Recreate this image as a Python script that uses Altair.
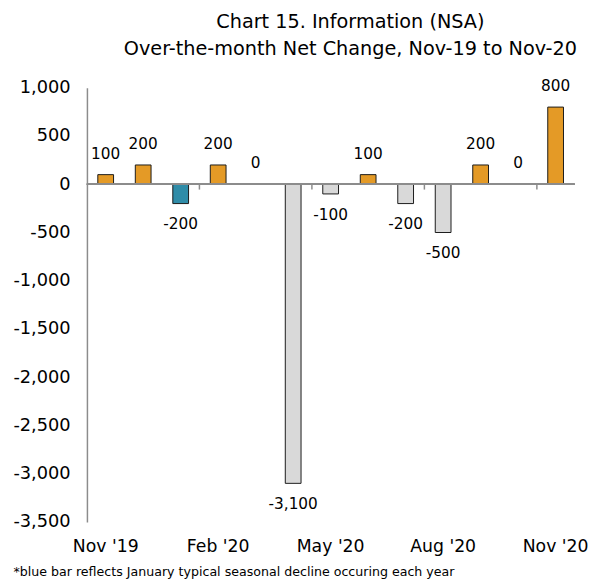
import altair as alt
import pandas as pd

months = ["Nov '19", "Dec '19", "Jan '20", "Feb '20", "Mar '20", "Apr '20", "May '20",
          "Jun '20", "Jul '20", "Aug '20", "Sep '20", "Oct '20", "Nov '20"]
values = [100, 200, -200, 200, 0, -3100, -100, 100, -200, -500, 200, 0, 800]
groups = ["up", "up", "seasonal", "up", "none", "down", "down", "up", "down", "down", "up", "none", "up"]
shown_labels = ["Nov '19", "Feb '20", "May '20", "Aug '20", "Nov '20"]
tick_months = ["Jan '20", "Apr '20", "Jul '20", "Oct '20"]
y_ticks = [-3500, -3000, -2500, -2000, -1500, -1000, -500, 0, 500, 1000]

group_names = ["up", "down", "seasonal", "none"]
group_colors = ["#E49A26", "#D9D9D9", "#2F8CA8", "#FFFFFF"]

FONT = "DejaVu Sans"

df = pd.DataFrame({"month": months, "value": values, "group": groups})
df["label"] = [f"{v:,}" for v in values]
ticks_df = pd.DataFrame({"month": tick_months})

xscale = alt.Scale(domain=months, paddingInner=0.58, paddingOuter=0.29)
xscale_edges = alt.Scale(domain=months, paddingInner=0, paddingOuter=0)
yscale = alt.Scale(domain=[-3500, 1000], nice=False, zero=False)

label_expr = "indexof(" + str(shown_labels) + ", datum.value) >= 0 ? datum.value : ''"

x_enc = alt.X(
    "month:N", sort=months, scale=xscale,
    axis=alt.Axis(
        title="*blue bar reflects January typical seasonal decline occuring each year",
        titleFont=FONT, titleFontSize=12.8, titleFontWeight="normal", titleColor="#000000",
        titleAnchor="start", titleAlign="left", titleX=-75, titleY=50, titleBaseline="middle",
        labelExpr=label_expr, labelAngle=0, labelFont=FONT, labelFontSize=17.5,
        labelColor="#000000", labelPadding=16, domain=False, ticks=False, grid=False,
    ),
)
x_plain = alt.X("month:N", sort=months, scale=xscale, axis=None)

bars = alt.Chart(df).transform_filter("datum.value != 0").mark_bar(
    stroke="#1a1a1a", strokeWidth=1
).encode(
    x=x_enc,
    y=alt.Y("value:Q", scale=yscale, axis=alt.Axis(
        title=None, values=y_ticks,
        labelExpr="replace(format(datum.value, ','), '\u2212', '-')",
        labelFont=FONT, labelFontSize=18, labelColor="#000000", labelPadding=17,
        domain=True, domainColor="#8c8c8c", domainWidth=1.5, ticks=False, grid=False,
    )),
    color=alt.Color("group:N", scale=alt.Scale(domain=group_names, range=group_colors), legend=None),
)

zero_line = alt.Chart(df).mark_rule(color="#8c8c8c", strokeWidth=1.5).encode(
    y=alt.Y(datum=0, scale=yscale)
)

cat_ticks = alt.Chart(ticks_df).mark_rule(color="#8c8c8c", strokeWidth=1.5).encode(
    x=alt.X("month:N", sort=months, scale=xscale_edges, bandPosition=1, axis=None),
    y=alt.Y(datum=0, scale=yscale),
    y2=alt.Y2(datum=-55),
)

text_common = dict(font=FONT, fontSize=15.5, color="#000000", baseline="middle")

labels_up = alt.Chart(df).transform_filter("datum.value >= 0").mark_text(dy=-21, **text_common).encode(
    x=x_plain,
    y=alt.Y("value:Q", scale=yscale),
    text=alt.Text("label:N"),
)

labels_down = alt.Chart(df).transform_filter("datum.value < 0").mark_text(dy=21, **text_common).encode(
    x=x_plain,
    y=alt.Y("value:Q", scale=yscale),
    text=alt.Text("label:N"),
)

chart = alt.layer(bars, zero_line, cat_ticks, labels_up, labels_down).resolve_scale(
    x="independent"
).properties(
    width=494,
    height=440,
    autosize=alt.AutoSizeParams(type="none"),
    padding={"left": 80, "top": 77, "right": 28, "bottom": 58},
    title=alt.TitleParams(
        text=["Chart 15. Information (NSA)", "Over-the-month Net Change, Nov-19 to Nov-20"],
        font=FONT, fontSize=19.5, fontWeight="normal", color="#000000",
        anchor="middle", dx=20, offset=20, lineHeight=27,
    ),
).configure_view(stroke=None)

chart.save("out.html", embed_options={"renderer": "svg", "actions": False})
